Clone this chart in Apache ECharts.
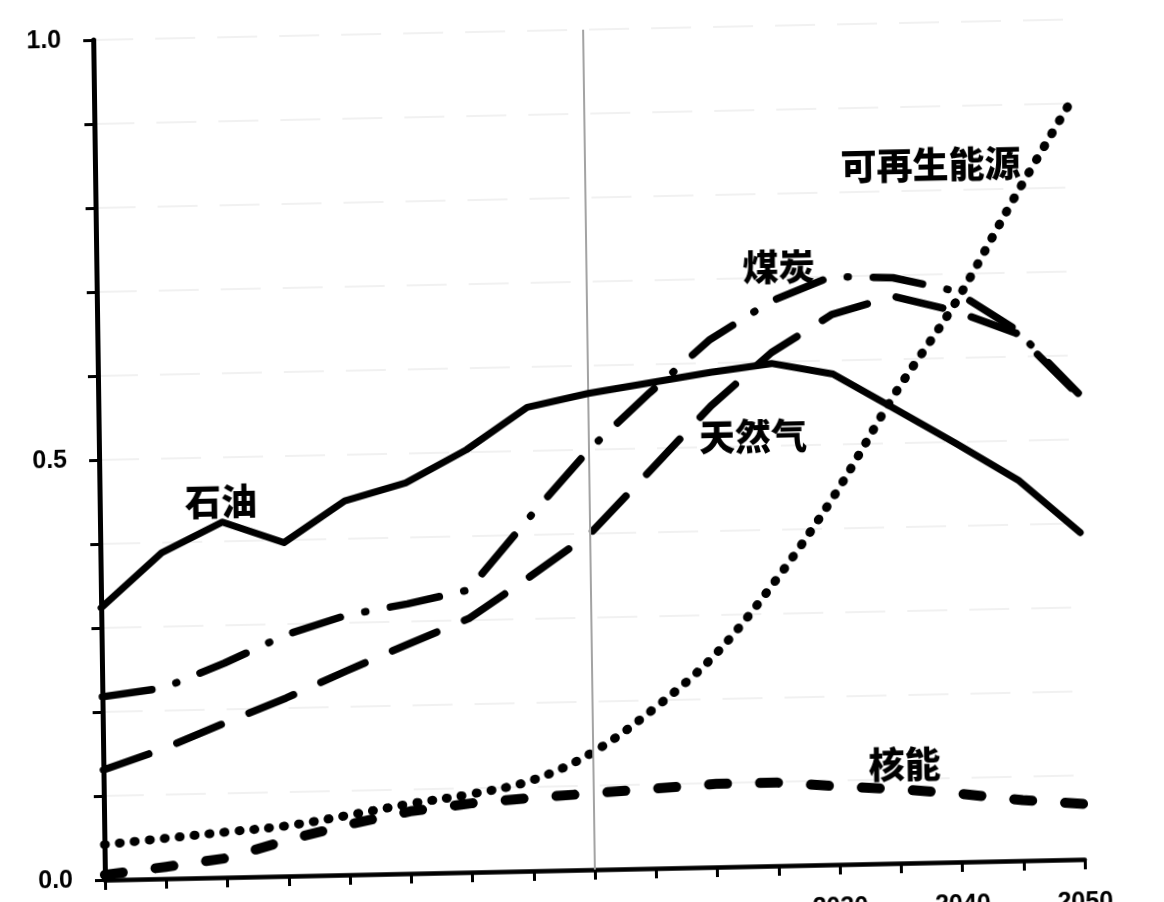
<!DOCTYPE html>
<html>
<head>
<meta charset="utf-8">
<script src="https://cdn.jsdelivr.net/npm/echarts@6/dist/echarts.min.js"></script>
<style>
html, body { margin: 0; padding: 0; width: 1164px; height: 902px; overflow: hidden; background: #ffffff; }
#chart { position: absolute; left: 0; top: 0; width: 1164px; height: 960px;
  transform-origin: 105px 880px; transform: matrix(1, -0.021, 0.014, 1, 0, 0); }
</style>
</head>
<body>
<div id="chart"></div>
<script>
// ---- data ----
const years     = [1970, 1975, 1980, 1985, 1990, 1995, 2000, 2005, 2010, 2015, 2020, 2025, 2030, 2035, 2040, 2045, 2050];
const oil       = [0.324, 0.388, 0.423, 0.397, 0.445, 0.465, 0.503, 0.552, 0.567, 0.578, 0.589, 0.598, 0.584, 0.541, 0.498, 0.453, 0.389];
const coal      = [0.218, 0.227, 0.255, 0.287, 0.309, 0.321, 0.336, 0.420, 0.500, 0.566, 0.628, 0.672, 0.700, 0.697, 0.680, 0.632, 0.555];
const gas       = [0.131, 0.155, 0.184, 0.212, 0.243, 0.273, 0.302, 0.350, 0.400, 0.474, 0.549, 0.611, 0.655, 0.675, 0.656, 0.628, 0.553];
const renewable = [0.042, 0.048, 0.054, 0.060, 0.071, 0.083, 0.093, 0.108, 0.140, 0.190, 0.252, 0.338, 0.440, 0.558, 0.664, 0.789, 0.909];
const nuclear   = [0.006, 0.014, 0.023, 0.043, 0.060, 0.074, 0.082, 0.087, 0.091, 0.095, 0.099, 0.099, 0.093, 0.088, 0.081, 0.072, 0.066];

const seriesNames = ['石油', '煤炭', '天然气', '可再生能源', '核能'];
const xTickValues = [2030, 2040, 2050];
const xTickLabels = ['2030', '2040', '2050'];
const yTickValues = [0, 0.5, 1];
const yTickLabels = ['0.0', '0.5', '1.0'];
const dividerYear = 2010;
// label anchor points in data coordinates [year, value]
const labelAnchors = [[1979.9, 0.447], [2025.7, 0.713], [2023.4, 0.511], [2038.2, 0.830], [2035.4, 0.118]];

const pairs = arr => years.map((y, i) => [y, arr[i]]);

const chart = echarts.init(document.getElementById('chart'), null, { renderer: 'canvas' });

const numFont = 'Liberation Sans';
const cjkFont = '"Noto Sans CJK SC", "Noto Sans", sans-serif';

const option = {
  animation: false,
  backgroundColor: '#ffffff',
  grid: { left: 105, right: 79, top: 40, bottom: 80, containLabel: false },
  xAxis: {
    type: 'value', min: 1970, max: 2050, interval: 5,
    axisLine: { show: true, onZero: false, lineStyle: { color: '#000', width: 4.5 } },
    axisTick: { show: true, length: 10, lineStyle: { color: '#000', width: 3 } },
    axisLabel: {
      margin: 31, color: '#000', fontFamily: numFont, fontWeight: 'bold', fontSize: 25,
      showMinLabel: true, showMaxLabel: true,
      formatter: v => { const i = xTickValues.indexOf(Math.round(v)); return i >= 0 ? xTickLabels[i] : ''; }
    },
    splitLine: { show: false }
  },
  yAxis: {
    type: 'value', min: 0, max: 1, interval: 0.1,
    axisLine: { show: true, onZero: false, lineStyle: { color: '#000', width: 5 } },
    axisTick: { show: true, length: 10, lineStyle: { color: '#000', width: 3 } },
    axisLabel: {
      margin: 32, color: '#000', fontFamily: numFont, fontWeight: 'bold', fontSize: 25,
      showMinLabel: true, showMaxLabel: true,
      formatter: v => { const i = yTickValues.findIndex(t => Math.abs(t - v) < 1e-6); return i >= 0 ? yTickLabels[i] : ''; }
    },
    splitLine: { show: true, lineStyle: { color: '#ededed', width: 1.5, type: [40, 22] } }
  },
  series: [
    {
      name: seriesNames[0], type: 'line', data: pairs(oil), symbol: 'none', z: 5,
      lineStyle: { color: '#000', width: 7, join: 'round', cap: 'round' },
      markLine: {
        silent: true, symbol: ['none', 'none'], label: { show: false },
        lineStyle: { color: '#a3a3a3', width: 2, type: 'solid' },
        data: [{ xAxis: dividerYear }]
      }
    },
    {
      name: seriesNames[1], type: 'line', data: pairs(coal), symbol: 'none', z: 4,
      lineStyle: { color: '#000', width: 7.5, type: [50, 25, 1, 25], cap: 'round', join: 'round' }
    },
    {
      name: seriesNames[2], type: 'line', data: pairs(gas), symbol: 'none', z: 4,
      lineStyle: { color: '#000', width: 7.5, type: [48, 30], cap: 'round', join: 'round' }
    },
    {
      name: seriesNames[3], type: 'line', data: pairs(renewable), symbol: 'none', smooth: 0.35, z: 4,
      lineStyle: { color: '#000', width: 9, type: [1, 14], cap: 'round', join: 'round' }
    },
    {
      name: seriesNames[4], type: 'line', data: pairs(nuclear), symbol: 'none', z: 4,
      lineStyle: { color: '#000', width: 10, type: [18, 33], cap: 'round', join: 'round' }
    }
  ]
};

chart.setOption(option);

const graphics = seriesNames.map((name, i) => {
  const p = chart.convertToPixel({ gridIndex: 0 }, labelAnchors[i]);
  return {
    type: 'text', x: p[0], y: p[1], z: 10,
    style: { text: name, fill: '#000', font: '900 36px ' + cjkFont, align: 'center', verticalAlign: 'middle' }
  };
});
chart.setOption({ graphic: graphics });
</script>
</body>
</html>
